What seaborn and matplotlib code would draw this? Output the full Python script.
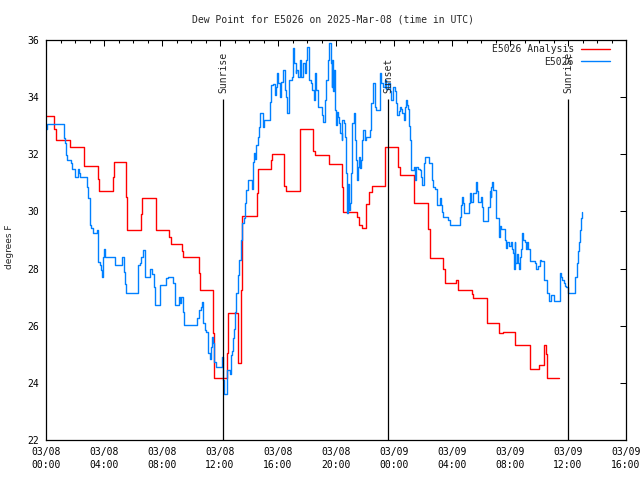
import matplotlib
matplotlib.use("Agg")
import matplotlib.pyplot as plt
import seaborn as sns
import pandas as pd

# ---------------- data (hours since 03/08 00:00 UTC, degrees F) ----------------
analysis_hours = [0.00, 0.57, 0.69, 1.65, 2.60, 3.60, 3.68, 4.60, 4.68, 5.54, 5.60, 6.57,
                  6.65, 7.57, 8.50, 8.65, 9.36, 9.45, 10.55, 10.62, 11.54, 11.60, 12.50,
                  12.57, 13.27, 13.45, 13.50, 14.53, 14.60, 15.50, 15.60, 16.44, 16.55,
                  17.50, 17.55, 18.44, 18.55, 19.54, 20.44, 20.50, 21.42, 21.60, 21.80,
                  22.05, 22.30, 22.50, 23.38, 24.30, 24.40, 25.38, 26.37, 26.45, 27.40,
                  27.50, 28.30, 28.40, 29.36, 29.45, 30.39, 31.27, 31.50, 32.34, 33.38,
                  34.02, 34.37, 34.45, 34.55, 35.40]
analysis_values = [33.34, 32.90, 32.50, 32.25, 31.58, 31.13, 30.71, 31.20, 31.72, 30.52, 29.35, 29.91,
                   30.48, 29.35, 29.10, 28.86, 28.60, 28.42, 27.83, 27.25, 25.74, 24.16, 25.04,
                   26.43, 24.68, 27.25, 29.84, 30.63, 31.48, 31.80, 32.00, 30.90, 30.73,
                   31.80, 32.87, 32.10, 31.97, 31.65, 30.87, 29.99, 29.82, 29.53, 29.41,
                   30.26, 30.69, 30.90, 32.24, 31.57, 31.28, 30.28, 29.38, 28.38, 27.97,
                   27.48, 27.60, 27.25, 27.10, 26.96, 26.11, 25.73, 25.79, 25.33, 24.47,
                   24.63, 25.32, 25.00, 24.16, 24.16]

obs_hours = [0.00, 0.05, 1.27, 1.33, 1.38, 1.43, 1.72, 1.77, 2.00, 2.20, 2.27, 2.33, 2.85, 2.90,
             3.00, 3.06, 3.13, 3.22, 3.52, 3.56, 3.60, 3.70, 3.77, 3.86, 3.93, 4.00, 4.05, 4.74,
             5.26, 5.38, 5.45, 5.53, 6.35, 6.45, 6.55, 6.68, 6.83, 7.20, 7.33, 7.43, 7.52, 7.84,
             8.25, 8.40, 8.75, 8.88, 9.17, 9.27, 9.34, 9.45, 9.52, 10.40, 10.55, 10.70, 10.78,
             10.83, 10.95, 11.05, 11.20, 11.29, 11.36, 11.46, 11.52, 11.62, 11.70, 12.15, 12.21,
             12.28, 12.50, 12.67, 12.74, 12.83, 12.90, 12.97, 13.06, 13.13, 13.24, 13.31, 13.42,
             13.52, 13.65, 13.75, 13.82, 13.93, 14.20, 14.28, 14.35, 14.43, 14.50, 14.62, 14.69,
             14.78, 14.98, 15.06, 15.42, 15.53, 15.65, 15.76, 15.84, 15.90, 15.99, 16.11, 16.22,
             16.34, 16.45, 16.57, 16.64, 16.73, 16.95, 17.05, 17.13, 17.21, 17.27, 17.37, 17.49,
             17.60, 17.72, 17.83, 17.95, 18.02, 18.13, 18.25, 18.34, 18.45, 18.52, 18.64, 18.75,
             19.03, 19.10, 19.21, 19.33, 19.44, 19.55, 19.64, 19.69, 19.75, 19.80, 19.85, 19.91,
             19.98, 20.07, 20.14, 20.21, 20.30, 20.39, 20.44, 20.53, 20.60, 20.67, 20.76, 20.83,
             20.90, 20.99, 21.06, 21.13, 21.22, 21.29, 21.36, 21.45, 21.52, 21.59, 21.68, 21.75,
             21.82, 21.86, 21.98, 22.10, 22.32, 22.44, 22.55, 22.67, 22.79, 23.01, 23.13, 23.24,
             23.36, 23.48, 23.59, 23.70, 23.82, 23.93, 24.05, 24.16, 24.24, 24.32, 24.39, 24.51,
             24.58, 24.67, 24.74, 24.81, 24.90, 24.97, 25.04, 25.13, 25.20, 25.38, 25.48, 25.54,
             25.66, 25.77, 25.84, 25.96, 26.07, 26.16, 26.42, 26.62, 26.69, 26.80, 26.97, 27.15,
             27.25, 27.34, 27.38, 27.75, 27.89, 28.53, 28.65, 28.72, 28.77, 28.82, 29.18, 29.27,
             29.33, 29.46, 29.64, 29.71, 29.80, 29.98, 30.05, 30.14, 30.48, 30.60, 30.67, 30.72,
             30.78, 30.86, 31.06, 31.25, 31.30, 31.40, 31.68, 31.75, 31.82, 31.95, 32.05, 32.15,
             32.21, 32.28, 32.33, 32.36, 32.45, 32.52, 32.59, 32.66, 32.73, 32.81, 32.90, 33.00,
             33.10, 33.20, 33.27, 33.41, 33.70, 33.80, 33.95, 34.05, 34.15, 34.35, 34.58, 34.67,
             34.85, 35.00, 35.43, 35.55, 35.62, 35.70, 35.77, 35.88, 36.00, 36.50, 36.60, 36.68,
             36.75, 36.80, 36.87, 36.94]
obs_values = [32.90, 33.05, 32.57, 32.38, 31.97, 31.80, 31.68, 31.50, 31.20, 31.50, 31.35, 31.20, 30.87, 30.48,
              29.99, 29.53, 29.41, 29.23, 29.35, 28.80, 28.24, 28.12, 27.95, 27.69, 28.42, 28.67, 28.42, 28.12,
              28.40, 27.89, 27.45, 27.13, 28.12, 28.18, 28.40, 28.65, 27.72, 27.97, 27.80, 27.37, 26.73, 27.42,
              27.66, 27.72, 27.50, 26.73, 27.00, 26.78, 27.00, 26.49, 26.03, 26.26, 26.55, 26.67, 26.84,
              26.08, 25.85, 25.79, 25.03, 24.83, 25.27, 25.62, 25.40, 24.74, 24.57, 24.90, 24.10,
              23.60, 24.45, 24.30, 24.97, 25.10, 25.56, 25.90, 26.49, 27.13, 27.77, 28.30, 29.00,
              29.58, 29.76, 30.28, 30.75, 31.10, 30.80, 31.74, 32.03, 31.85, 32.33, 32.62, 32.97,
              33.46, 32.97, 33.20, 33.84, 34.42, 34.47, 34.07, 34.37, 34.83, 34.48, 34.02, 34.54,
              34.95, 34.25, 34.02, 33.43, 34.60, 34.72, 35.71, 35.18, 34.83, 34.95, 34.72, 35.30,
              34.72, 35.18, 34.83, 35.30, 35.77, 34.60, 34.48, 34.25, 33.90, 34.83, 34.25, 33.67,
              33.37, 33.14, 33.90, 34.60, 35.30, 35.90, 35.18, 34.37, 35.30, 34.20, 34.95, 33.55,
              33.03, 33.49, 33.32, 33.08, 32.73, 32.50, 33.20, 33.08, 32.62, 31.33, 29.93, 30.97,
              30.05, 30.28, 31.33, 33.08, 33.43, 32.50, 31.80, 31.10, 31.57, 31.92, 31.51, 31.80,
              32.50, 32.85, 32.50, 32.62, 32.85, 33.78, 34.48, 33.67, 33.55, 34.83, 34.48, 34.37,
              34.60, 34.30, 34.50, 34.20, 33.90, 34.37, 34.20, 33.78, 33.37, 33.50, 33.66, 33.60,
              33.43, 33.20, 33.66, 33.90, 33.72, 33.60, 33.00, 32.50, 31.45, 31.57, 31.10, 31.57,
              31.50, 31.45, 31.20, 30.93, 31.68, 31.92, 31.68, 31.10, 30.87, 30.80, 30.23, 30.46,
              30.23, 29.99, 29.79, 29.70, 29.53, 29.79, 30.23, 30.52, 30.30, 29.93, 30.30, 30.66,
              30.34, 30.66, 31.04, 30.70, 30.34, 30.50, 30.17, 29.67, 30.17, 30.70, 30.50, 30.87,
              31.04, 30.75, 29.76, 29.12, 29.50, 29.37, 29.00, 28.71, 28.94, 28.80, 28.94, 28.70,
              28.53, 27.97, 28.94, 28.20, 28.50, 28.20, 27.97, 28.40, 28.70, 29.23, 29.00, 28.94,
              28.70, 28.94, 28.70, 28.26, 28.20, 27.97, 28.10, 28.30, 28.26, 27.60, 27.13, 26.88,
              27.08, 26.88, 27.86, 27.70, 27.60, 27.50, 27.40, 27.35, 27.16, 27.70, 28.18, 28.60,
              28.94, 29.35, 29.76, 29.97]

event_names = ["Sunrise", "Sunset", "Sunrise"]
event_hours = [12.23, 23.60, 36.02]

tick_hours = [0, 4, 8, 12, 16, 20, 24, 28, 32, 36, 40]
tick_labels = ["03/08\n00:00", "03/08\n04:00", "03/08\n08:00", "03/08\n12:00", "03/08\n16:00",
               "03/08\n20:00", "03/09\n00:00", "03/09\n04:00", "03/09\n08:00", "03/09\n12:00",
               "03/09\n16:00"]
y_ticks = [22, 24, 26, 28, 30, 32, 34, 36]

title_text = "Dew Point for E5026 on 2025-Mar-08 (time in UTC)"
series_names = ["E5026 Analysis", "E5026"]
series_colors = ["#ff0000", "#0080ff"]

# ---------------- plot ----------------
sns.set_style("white")
plt.rcParams['font.family'] = ['DejaVu Sans Mono', 'DejaVu Sans']
plt.rcParams['font.size'] = 7

fig = plt.figure(figsize=(6.4, 4.8), dpi=100)
ax = fig.add_axes([46 / 640, 40 / 480, 580 / 640, 400 / 480])

df_a = pd.DataFrame({"hour": analysis_hours, "value": analysis_values})
df_o = pd.DataFrame({"hour": obs_hours, "value": obs_values})

sns.lineplot(data=df_a, x="hour", y="value", ax=ax, color=series_colors[0], lw=1.0,
             drawstyle="steps-post", estimator=None, sort=False, label=series_names[0])
sns.lineplot(data=df_o, x="hour", y="value", ax=ax, color=series_colors[1], lw=1.0,
             drawstyle="steps-post", estimator=None, sort=False, label=series_names[1])

ax.vlines(event_hours, 22, 33.95, color="black", lw=0.9)
for name, h in zip(event_names, event_hours):
    ax.text(h, 34.15, name, rotation=90, ha="center", va="bottom", fontsize=7)

ax.set_xlim(0, 40)
ax.set_ylim(22, 36)
ax.set_xticks(tick_hours, tick_labels)
ax.set_xticks(list(range(0, 41)), minor=True)
ax.set_yticks(y_ticks, [str(v) for v in y_ticks])
ax.set_xlabel("")
ax.set_ylabel("")

ax.tick_params(which="both", direction="in", top=True, right=True, color="black",
               width=0.75, labelsize=7, labelcolor="black")
ax.tick_params(which="major", length=4.3)
ax.tick_params(which="minor", length=2.2)
ax.tick_params(axis="x", pad=5)
ax.tick_params(axis="y", pad=5)
for lbl in ax.get_xticklabels():
    lbl.set_linespacing(1.35)

for s in ax.spines.values():
    s.set_color("black")
    s.set_linewidth(0.9)
    s.set_visible(True)

ax.legend(loc="upper right", bbox_to_anchor=(0.972, 0.989), frameon=False, markerfirst=False,
          handlelength=3.0, handletextpad=0.7, labelspacing=0.25, borderpad=0,
          borderaxespad=0, fontsize=7)

fig.text(332.5 / 640, 1 - 19 / 480, title_text, ha="center", va="center", fontsize=7)
fig.text(10 / 640, 1 - 247 / 480, "degrees F", rotation=90, ha="center", va="center",
         fontsize=6.5, family="DejaVu Sans")

fig.savefig("out.png", dpi=100)
